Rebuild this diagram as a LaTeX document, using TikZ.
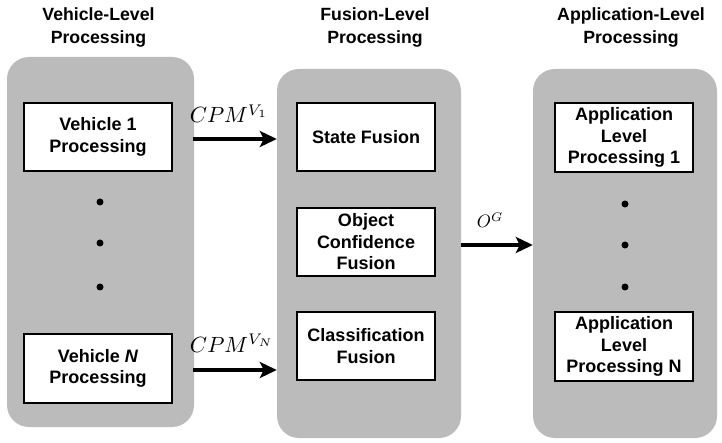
\documentclass[tikz,border=0pt]{standalone}
\usepackage{fontspec}
\setmainfont{Liberation Sans}
\usetikzlibrary{arrows.meta,calc}
\definecolor{panelgray}{RGB}{187,187,187}
\begin{document}
\begin{tikzpicture}[x=1pt,y=-1pt,
  panel/.style={fill=panelgray, rounded corners=22pt, inner sep=0},
  procbox/.style={draw, line width=2pt, fill=white, align=center, font=\fontsize{18}{21.5}\selectfont\bfseries, inner sep=0},
  title/.style={align=center, font=\fontsize{17.7}{23}\selectfont\bfseries, inner sep=0, anchor=north},
  dotmark/.style={circle, fill=black, inner sep=0, minimum size=7pt},
  arr/.style={line width=3.7pt, -{Stealth[length=17pt,width=16pt,inset=4pt]}},
  lbl/.style={anchor=base, inner sep=0}]
\useasboundingbox[fill=white] (0,0) rectangle (722,443);

% titles
\node[title] (t1) at (98.5,7) {Vehicle-Level\\Processing};
\node[title] (t2) at (375,7) {Fusion-Level\\Processing};
\node[title] (t3) at (631,7) {Application-Level\\Processing};

% panels
\node[panel, minimum width=187pt, minimum height=370pt] (P1) at (100.5,242) {};
\node[panel, minimum width=184pt, minimum height=369pt] (P2) at (369,253.5) {};
\node[panel, minimum width=184pt, minimum height=369pt] (P3) at (625,253.5) {};

% vehicle level
\node[procbox, minimum width=148pt, minimum height=68pt] (V1) at (98,137) {Vehicle 1\\Processing};
\node[procbox, minimum width=148pt, minimum height=69pt] (VN) at (98,368.5) {Vehicle \textit{N}\\Processing};
\node[dotmark] (ld1) at (100,202) {};
\node[dotmark] (ld2) at (100,243) {};
\node[dotmark] (ld3) at (100,287) {};

% fusion level
\node[procbox, minimum width=138pt, minimum height=68pt] (SF) at (366,137) {State Fusion};
\node[procbox, minimum width=138pt, minimum height=68pt] (OCF) at (366,242) {Object\\Confidence\\Fusion};
\node[procbox, minimum width=138pt, minimum height=68pt] (CF) at (366,346) {Classification\\Fusion};

% application level
\node[procbox, minimum width=138pt, minimum height=69pt] (A1) at (624,137.5) {Application\\Level\\Processing 1};
\node[procbox, minimum width=138pt, minimum height=69pt] (AN) at (624,346.5) {Application\\Level\\Processing N};
\node[dotmark] (rd1) at (625,204) {};
\node[dotmark] (rd2) at (625,245) {};
\node[dotmark] (rd3) at (625,287) {};

% arrows
\draw[arr] ([xshift=20pt,yshift=-2pt]V1.east) -- node[lbl, yshift=16pt, xshift=-6pt] {\scalebox{2.2}{$CPM^{V_1}$}} ([yshift=-2pt]V1.east -| P2.west);
\draw[arr] ([xshift=20pt,yshift=-1.5pt]VN.east) -- node[lbl, yshift=18pt, xshift=-3pt] {\scalebox{2.2}{$CPM^{V_N}$}} ([yshift=-1.5pt]VN.east -| P2.west);
\draw[arr] ([yshift=-3pt]OCF.east -| P2.east) -- node[lbl, yshift=17pt, xshift=-7pt] {\scalebox{1.8}{$O^G$}} ([yshift=-3pt]OCF.east -| P3.west);
\end{tikzpicture}
\end{document}
